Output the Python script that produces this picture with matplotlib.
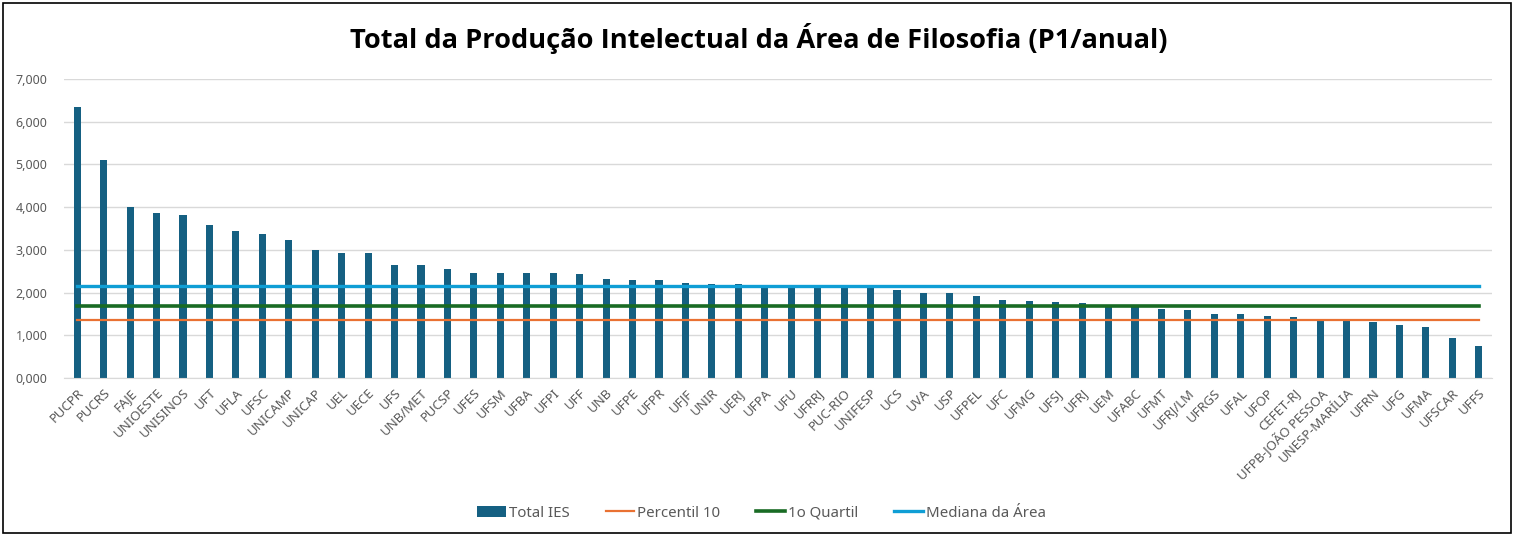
import matplotlib
matplotlib.use("Agg")
import matplotlib.pyplot as plt
from matplotlib.patches import Rectangle

# Dados
ies = ["PUCPR", "PUCRS", "FAJE", "UNIOESTE", "UNISINOS", "UFT", "UFLA", "UFSC",
       "UNICAMP", "UNICAP", "UEL", "UECE", "UFS", "UNB/MET", "PUCSP", "UFES",
       "UFSM", "UFBA", "UFPI", "UFF", "UNB", "UFPE", "UFPR", "UFJF", "UNIR",
       "UERJ", "UFPA", "UFU", "UFRRJ", "PUC-RIO", "UNIFESP", "UCS", "UVA", "USP",
       "UFPEL", "UFC", "UFMG", "UFSJ", "UFRJ", "UEM", "UFABC", "UFMT", "UFRJ/LM",
       "UFRGS", "UFAL", "UFOP", "CEFET-RJ", "UFPB-JOÃO PESSOA", "UNESP-MARÍLIA",
       "UFRN", "UFG", "UFMA", "UFSCAR", "UFFS"]

total_ies = [6345, 5105, 4014, 3866, 3819, 3593, 3445, 3367, 3219, 2993, 2931,
             2923, 2650, 2642, 2549, 2463, 2455, 2455, 2455, 2432, 2323, 2299,
             2299, 2221, 2206, 2198, 2160, 2155, 2150, 2145, 2104, 2050, 1995,
             1988, 1917, 1832, 1808, 1785, 1754, 1680, 1672, 1606, 1598, 1504,
             1496, 1450, 1434, 1387, 1341, 1317, 1231, 1200, 935, 756]

percentil_10 = 1348
primeiro_quartil = 1676
mediana_area = 2159

ticks_y = [0, 1000, 2000, 3000, 4000, 5000, 6000, 7000]
labels_y = ["0,000", "1,000", "2,000", "3,000", "4,000", "5,000", "6,000", "7,000"]

cor_barra = "#156082"
cor_p10 = "#E97132"
cor_q1 = "#196B24"
cor_med = "#0F9ED5"
cor_texto = "#595959"

plt.rcParams["font.family"] = ["Noto Sans", "DejaVu Sans"]

fig = plt.figure(figsize=(15.17, 5.35), dpi=100)
ax = fig.add_axes([0.0422, 0.2935, 0.9413, 0.5588])

x = list(range(len(ies)))
barras = ax.bar(x, total_ies, width=0.27, color=cor_barra, label="Total IES", zorder=2)
l1, = ax.plot(x, [percentil_10] * len(x), color=cor_p10, lw=1.6, label="Percentil 10", zorder=3)
l2, = ax.plot(x, [primeiro_quartil] * len(x), color=cor_q1, lw=2.6, label="1o Quartil", zorder=3)
l3, = ax.plot(x, [mediana_area] * len(x), color=cor_med, lw=2.4, label="Mediana da Área", zorder=3)

ax.set_xlim(-0.5, len(ies) - 0.5)
ax.set_ylim(0, 7000)
ax.set_yticks(ticks_y)
ax.set_yticklabels(labels_y, fontsize=9, color=cor_texto)
ax.set_xticks(x)
ax.set_xticklabels(ies, rotation=45, ha="right", va="top", rotation_mode="anchor",
                   fontsize=9.5, color=cor_texto)
ax.tick_params(axis="both", length=0)
ax.tick_params(axis="y", pad=12)
ax.tick_params(axis="x", pad=6)

ax.grid(axis="y", color="#d9d9d9", lw=1, zorder=0)
for lado in ["top", "right", "left"]:
    ax.spines[lado].set_visible(False)
ax.spines["bottom"].set_color("#d9d9d9")

fig.suptitle("Total da Produção Intelectual da Área de Filosofia (P1/anual)",
             y=0.957, fontsize=19.6, fontweight="bold", color="black",
             family=["Open Sans", "DejaVu Sans"])

leg = fig.legend([barras, l1, l2, l3], ["Total IES", "Percentil 10", "1o Quartil", "Mediana da Área"],
                 loc="center", bbox_to_anchor=(0.502, 0.041), ncol=4, frameon=False,
                 fontsize=10.8, handlelength=1.9, handletextpad=0.2, columnspacing=2.4)
for t in leg.get_texts():
    t.set_color(cor_texto)

fig.patches.append(Rectangle((0.002, 0.004), 0.994, 0.99, transform=fig.transFigure,
                             fill=False, edgecolor="black", lw=1.2))

fig.savefig("out.png", dpi=100)
